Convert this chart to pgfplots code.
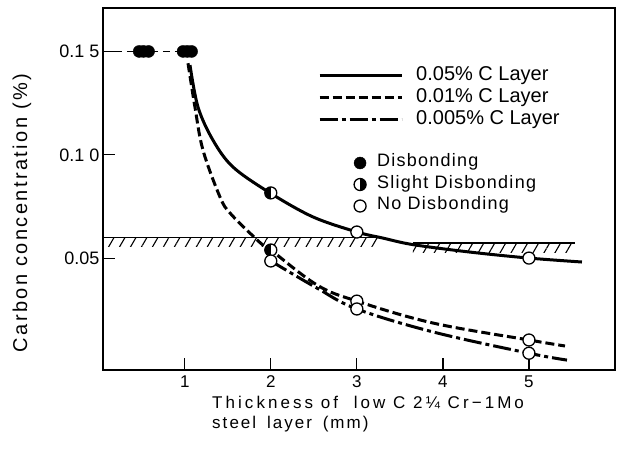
\documentclass[border=0pt]{standalone}
\usepackage{fontspec}
\setmainfont{Liberation Sans}
\newfontfamily\lsfont[LetterSpace=12]{Liberation Sans}
\newfontfamily\xlfont[LetterSpace=18]{Liberation Sans}
\newfontfamily\lgfont[LetterSpace=7]{Liberation Sans}
\usepackage{pgfplots}
\pgfplotsset{compat=1.18}
\usetikzlibrary{plotmarks,patterns.meta}
\begin{document}
\begin{tikzpicture}
\begin{axis}[
  name=main,
  scale only axis, width=512pt, height=362pt,
  xmin=0.05, xmax=6.0, ymin=-0.004, ymax=0.171,
  axis line style={line width=2pt},
  xtick={1,2,3,4,5}, ytick={0.05,0.10,0.15},
  yticklabels={0.05, 0.1\kern5pt0, 0.1\kern5pt5},
  tick align=inside, major tick length=12pt,
  tick style={line width=1.2pt, black},
  xtick pos=bottom, ytick pos=left,
  /pgf/number format/assume math mode=true,
  xticklabel style={font=\fontsize{17}{20}\selectfont, yshift=-2pt},
  yticklabel style={font=\fontsize{18}{20}\selectfont},
  clip=false,
  legend style={at={(rel axis cs:0.42,0.845)}, anchor=north west, draw=none, fill=none,
    inner sep=0pt, font=\fontsize{20}{22}\selectfont,
    nodes={inner sep=0pt, text height=16pt, text depth=6pt},
    /tikz/every odd column/.append style={column sep=13pt}},
  legend cell align=left,
  legend image code/.code={\draw[#1] (0pt,0pt) -- (82pt,0pt);},
]
% hatched boundary
\addplot[draw=none, forget plot, pattern={Lines[angle=60,distance=9.5pt,line width=1.1pt]}]
  coordinates {(0.05,0.0601)(3.27,0.0601)(3.27,0.0556)(0.05,0.0556)(0.05,0.0601)};
\addplot[draw=none, forget plot, pattern={Lines[angle=60,distance=9.5pt,line width=1.1pt]}]
  coordinates {(3.65,0.0575)(5.53,0.0575)(5.53,0.0530)(3.65,0.0530)(3.65,0.0575)};
\addplot[line width=1.6pt, forget plot] coordinates {(0.05,0.0601)(3.27,0.0601)};
\addplot[line width=1.6pt, forget plot] coordinates {(3.65,0.0575)(5.53,0.0575)};
% dashed guide at 0.15
\addplot[line width=1.2pt, dash pattern=on 7pt off 5pt, forget plot] coordinates {(0.05,0.15)(1.0,0.15)};
% curves
\addplot[line width=3pt, smooth, tension=0.55] coordinates {
 (1.061,0.1434)(1.154,0.1231)(1.328,0.1071)(1.561,0.0941)(1.991,0.0816)(2.490,0.0700)
 (3.002,0.0627)(3.30,0.0598)(3.653,0.0566)(4.315,0.0530)(5.0,0.0501)(5.616,0.0482)};
\addlegendentry{0.05\% C Layer}
\addplot[line width=3pt, smooth, tension=0.6, dash pattern=on 9pt off 4pt] coordinates {
 (1.038,0.1443)(1.119,0.1230)(1.212,0.1023)(1.410,0.0796)(1.526,0.0719)(1.782,0.0612)
 (1.909,0.0564)(2.0,0.0540)(2.537,0.0371)(3.0,0.0293)(3.885,0.0187)(5.0,0.0105)(5.419,0.0076)};
\addlegendentry{0.01\% C Layer}
\addplot[line width=3pt, smooth, tension=0.6, dash pattern=on 18pt off 4pt on 4pt off 4pt] coordinates {
 (2.0,0.0487)(2.537,0.0356)(3.0,0.0255)(3.885,0.0144)(5.0,0.0041)(5.442,0.0008)};
\addlegendentry{0.005\% C Layer}
% markers
\addplot[only marks, mark=*, mark size=6pt, forget plot] coordinates {
 (0.47,0.15)(0.52,0.15)(0.58,0.15)(0.98,0.15)(1.03,0.15)(1.08,0.15)};
\addplot[only marks, mark=halfcircle*, mark size=6pt, forget plot,
  mark options={rotate=-90, fill=white, mark color=black, draw=black, line width=1.3pt}]
  coordinates {(2.0,0.0816)(2.0,0.0540)};
\addplot[only marks, mark=*, mark size=6pt, forget plot,
  mark options={fill=white, draw=black, line width=1.3pt}]
  coordinates {(3.0,0.0627)(5.0,0.0501)(2.0,0.0487)(3.0,0.0293)(3.0,0.0255)(5.0,0.0105)(5.0,0.0041)};
\end{axis}
\begin{axis}[
  scale only axis, width=512pt, height=362pt,
  xmin=0, xmax=1, ymin=0, ymax=1, hide axis,
  legend style={at={(rel axis cs:0.49,0.602)}, anchor=north west, draw=none, fill=none,
    inner sep=0pt, font=\fontsize{18}{21}\lgfont,
    nodes={inner sep=0pt, text height=14.5pt, text depth=7pt},
    /tikz/every odd column/.append style={column sep=11pt}},
  legend cell align=left,
  legend image code/.code={\draw[#1] plot coordinates {(6pt,0pt)};},
]
\addlegendimage{only marks, mark=*, mark size=6pt}
\addlegendentry{Disbonding}
\addlegendimage{only marks, mark=halfcircle*, mark size=6pt, mark options={rotate=90, fill=white, mark color=black, draw=black, line width=1.3pt}}
\addlegendentry{Slight Disbonding}
\addlegendimage{only marks, mark=*, mark size=6pt, mark options={fill=white, draw=black, line width=1.3pt}}
\addlegendentry{No Disbonding}
\end{axis}
% axis labels
\node[rotate=90, font=\fontsize{20}{22}\lsfont] at ([xshift=-81pt,yshift=157pt]main.south west) {Carbon concentration (\%)};
\node[anchor=north west, inner sep=0pt, align=left, font=\fontsize{17}{20}\xlfont] at ([xshift=109pt,yshift=-26pt]main.south west)
  {Thickness of\ \ low C 2¼ Cr−1Mo\\{\lsfont steel\kern4pt\ layer\kern4pt\ (mm)}};
\pgfresetboundingbox
\path ([xshift=-103pt,yshift=-84pt]main.south west) rectangle ([xshift=9pt,yshift=8pt]main.north east);
\end{tikzpicture}
\end{document}
